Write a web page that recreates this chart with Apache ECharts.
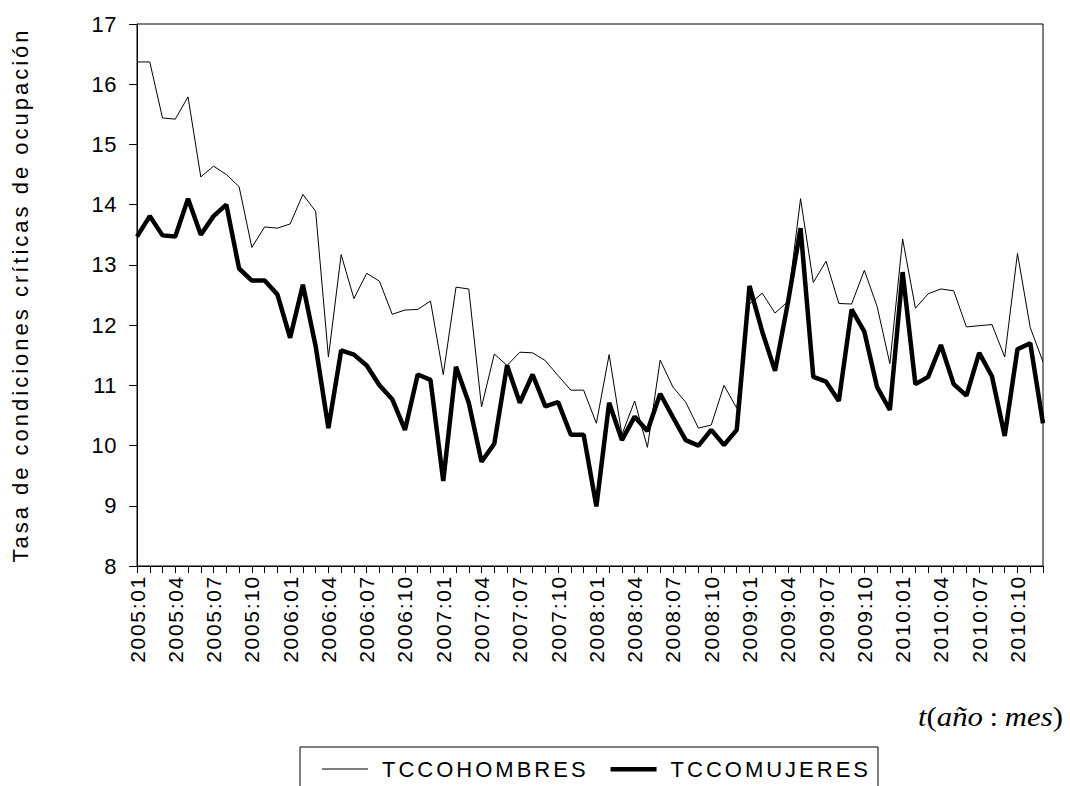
<!DOCTYPE html>
<html>
<head>
<meta charset="utf-8">
<script src="https://cdn.jsdelivr.net/npm/echarts@6/dist/echarts.min.js"></script>
<style>
  html, body { margin: 0; padding: 0; background: #fff; }
  #chart { width: 1070px; height: 786px; }
</style>
</head>
<body>
<div id="chart"></div>
<script>
const categories = [
  "2005:01","2005:02","2005:03","2005:04","2005:05","2005:06","2005:07","2005:08","2005:09","2005:10","2005:11","2005:12",
  "2006:01","2006:02","2006:03","2006:04","2006:05","2006:06","2006:07","2006:08","2006:09","2006:10","2006:11","2006:12",
  "2007:01","2007:02","2007:03","2007:04","2007:05","2007:06","2007:07","2007:08","2007:09","2007:10","2007:11","2007:12",
  "2008:01","2008:02","2008:03","2008:04","2008:05","2008:06","2008:07","2008:08","2008:09","2008:10","2008:11","2008:12",
  "2009:01","2009:02","2009:03","2009:04","2009:05","2009:06","2009:07","2009:08","2009:09","2009:10","2009:11","2009:12",
  "2010:01","2010:02","2010:03","2010:04","2010:05","2010:06","2010:07","2010:08","2010:09","2010:10","2010:11","2010:12"
];

const tccoHombres = [
  16.37,16.37,15.44,15.42,15.79,14.46,14.64,14.50,14.30,13.29,13.63,13.61,
  13.68,14.17,13.89,11.47,13.17,12.44,12.86,12.73,12.18,12.25,12.26,12.40,
  11.18,12.63,12.60,10.64,11.52,11.33,11.55,11.54,11.41,11.16,10.92,10.92,
  10.37,11.51,10.18,10.74,9.97,11.42,10.97,10.72,10.29,10.34,11.00,10.62,
  12.35,12.53,12.20,12.39,14.10,12.71,13.06,12.36,12.35,12.91,12.31,11.36,
  13.43,12.28,12.52,12.60,12.57,11.97,11.99,12.01,11.47,13.19,11.96,11.39
];

const tccoMujeres = [
  13.47,13.81,13.49,13.47,14.10,13.50,13.81,14.00,12.94,12.74,12.74,12.51,
  11.79,12.67,11.65,10.29,11.58,11.51,11.33,11.00,10.77,10.26,11.18,11.09,
  9.41,11.31,10.71,9.73,10.03,11.33,10.71,11.18,10.65,10.72,10.18,10.18,
  8.99,10.71,10.09,10.48,10.24,10.86,10.47,10.09,10.00,10.26,10.01,10.26,
  12.65,11.89,11.24,12.36,13.61,11.14,11.06,10.74,12.26,11.89,10.97,10.59,
  12.88,11.02,11.14,11.67,11.02,10.83,11.54,11.15,10.16,11.60,11.70,10.37
];

const seriesNames = ["TCCOHOMBRES", "TCCOMUJERES"];
const yAxisTitle = "Tasa de condiciones críticas de ocupación";

const FONT = "'Liberation Sans', Arial, sans-serif";
const SERIF = "'Liberation Serif', 'Times New Roman', serif";
const chart = echarts.init(document.getElementById('chart'), null, { renderer: 'svg' });

chart.setOption({
  animation: false,
  backgroundColor: '#fff',
  grid: {
    left: 137, right: 27, top: 24, bottom: 220,
    show: true, borderColor: '#000', borderWidth: 1, backgroundColor: 'transparent'
  },
  legend: {
    left: 300, top: 747,
    padding: [11, 40, 11, 22],
    itemWidth: 46, itemHeight: 14, itemGap: 55,
    borderColor: '#000', borderWidth: 1, borderRadius: 0,
    itemStyle: { borderWidth: 0 },
    lineStyle: { width: 0 },
    textStyle: { fontFamily: FONT, fontSize: 22, color: '#000', padding: [0, 0, 0, 9] },
    data: [
      { name: seriesNames[0], icon: 'path://M0,0 M0,6.5 L46,6.5 L46,7.5 L0,7.5 Z M46,14' },
      { name: seriesNames[1], icon: 'path://M0,0 M0,5 L46,5 L46,9.5 L0,9.5 Z M46,14' }
    ]
  },
  xAxis: {
    type: 'category',
    data: categories,
    boundaryGap: false,
    axisLine: { lineStyle: { color: '#000', width: 1 } },
    axisTick: { interval: 0, length: 7, lineStyle: { color: '#000' } },
    axisLabel: {
      interval: 2, rotate: 90, margin: 9,
      padding: [10, 0, 0, 0],
      fontFamily: FONT, fontSize: 21, color: '#000'
    },
    splitLine: { show: false }
  },
  yAxis: {
    type: 'value',
    min: 8, max: 17, interval: 1,
    name: yAxisTitle,
    nameLocation: 'middle',
    nameGap: 106,
    nameTextStyle: { fontFamily: FONT, fontSize: 22, color: '#000' },
    axisLine: { show: true, lineStyle: { color: '#000', width: 1 } },
    axisTick: { show: true, length: 8, lineStyle: { color: '#000' } },
    axisLabel: { margin: 20, padding: [0, 0, 8, 0], fontFamily: FONT, fontSize: 22, color: '#000' },
    splitLine: { show: false }
  },
  graphic: [
    {
      type: 'text',
      left: 918, top: 702,
      scaleX: 1.1,
      style: {
        text: '{i|t}{r|(}{i|año}{c|:}{i|mes}{r|)}',
        rich: {
          i: { fontFamily: SERIF, fontStyle: 'italic', fontSize: 28, fill: '#000' },
          r: { fontFamily: SERIF, fontSize: 28, fill: '#000' },
          c: { fontFamily: SERIF, fontSize: 28, fill: '#000', padding: [0, 6, 0, 6] }
        }
      }
    }
  ],
  series: [
    {
      name: seriesNames[0], type: 'line', data: tccoHombres,
      showSymbol: false, symbol: 'none',
      color: '#000',
      lineStyle: { color: '#000', width: 1 },
      z: 3
    },
    {
      name: seriesNames[1], type: 'line', data: tccoMujeres,
      showSymbol: false, symbol: 'none',
      color: '#000',
      lineStyle: { color: '#000', width: 4.5 },
      z: 2
    }
  ]
});

// EViews-style spaced lettering
function applySpacing() {
  document.querySelectorAll('#chart svg text').forEach(function (t) {
    const s = t.textContent;
    let sp = 0;
    if (/^\d{4}:\d{2}$/.test(s)) sp = 1.7;
    else if (s === yAxisTitle) sp = 3;
    else if (seriesNames.indexOf(s) >= 0) sp = 3;
    else if (/^\d+$/.test(s)) sp = 0.5;
    t.style.letterSpacing = sp + 'px';
  });
}
applySpacing();
chart.on('finished', applySpacing);
setTimeout(applySpacing, 0);
</script>
</body>
</html>
